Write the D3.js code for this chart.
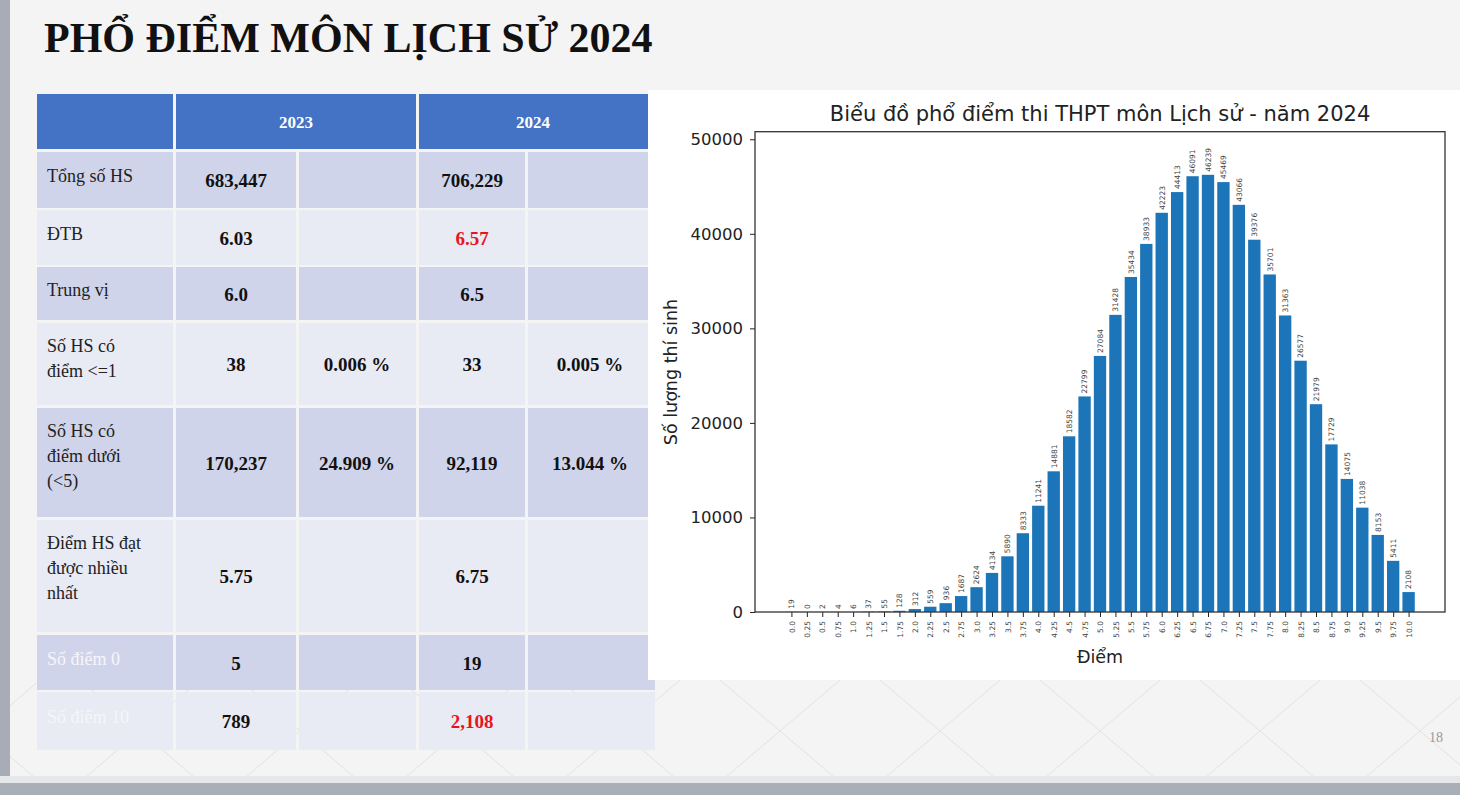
<!DOCTYPE html>
<html><head><meta charset="utf-8">
<script src="https://cdn.jsdelivr.net/npm/d3@7/dist/d3.min.js"></script>
<style>html,body{margin:0;padding:0;background:#f3f3f3;overflow:hidden}</style>
</head><body><svg id="s" width="1460" height="795"></svg>
<script>
// ---- chart data ----
const scoreLabels = ["0.0","0.25","0.5","0.75","1.0","1.25","1.5","1.75","2.0","2.25","2.5","2.75","3.0","3.25","3.5","3.75","4.0","4.25","4.5","4.75","5.0","5.25","5.5","5.75","6.0","6.25","6.5","6.75","7.0","7.25","7.5","7.75","8.0","8.25","8.5","8.75","9.0","9.25","9.5","9.75","10.0"];
const counts = [19,0,2,4,6,37,55,128,312,559,936,1687,2624,4134,5890,8333,11241,14881,18582,22799,27084,31428,35434,38933,42223,44413,46091,46239,45469,43066,39376,35701,31363,26577,21979,17729,14075,11038,8153,5411,2108];
const yTicks = [0,10000,20000,30000,40000,50000];

// ---- table data ----
const headerYears = ["2023","2024"];
const rowLabels = [["Tổng số HS"],["ĐTB"],["Trung vị"],["Số HS có","điểm <=1"],["Số HS có","điểm dưới","(<5)"],["Điểm HS đạt","được nhiều","nhất"],["Số điểm 0"],["Số điểm 10"]];
const val2023 = ["683,447","6.03","6.0","38","170,237","5.75","5","789"];
const pct2023 = ["","","","0.006 %","24.909 %","","",""];
const val2024 = ["706,229","6.57","6.5","33","92,119","6.75","19","2,108"];
const pct2024 = ["","","","0.005 %","13.044 %","","",""];
const redCells2024 = [1,7];

const svg = d3.select("#s");
// background
svg.append("rect").attr("width",1460).attr("height",795).attr("fill","#f4f4f4");
// faint diagonal pattern lower right
const pat = svg.append("g").attr("stroke","#e2e2e2").attr("stroke-width",1);
for (let i=-4;i<10;i++){
  pat.append("line").attr("x1",560+i*160).attr("y1",680).attr("x2",560+i*160+120).attr("y2",782);
  pat.append("line").attr("x1",560+i*160+120).attr("y1",680).attr("x2",560+i*160).attr("y2",782);
}
svg.append("rect").attr("x",0).attr("y",0).attr("width",10).attr("height",795).attr("fill","#a7acb6");
svg.append("rect").attr("x",0).attr("y",776).attr("width",1460).attr("height",7).attr("fill","#e6e7ea");
svg.append("rect").attr("x",0).attr("y",783).attr("width",1460).attr("height",12).attr("fill","#a9aeb7");

// slide title
svg.append("text").attr("x",44).attr("y",52).attr("font-family","Liberation Serif, serif")
  .attr("font-weight","bold").attr("font-size",42).attr("fill","#111").text("PHỔ ĐIỂM MÔN LỊCH SỬ 2024");

// ---- table ----
const colX = [[37,173],[176,296],[299,416],[419,525],[528,655]];
const rowY = [[152,208],[210,265],[267,320],[323,405],[408,517],[520,632],[635,690],[692,750]];
const serif = "Liberation Serif, serif";
const tb = svg.append("g");
// header
tb.append("rect").attr("x",37).attr("y",94).attr("width",136).attr("height",55).attr("fill","#4472c4");
tb.append("rect").attr("x",176).attr("y",94).attr("width",240).attr("height",55).attr("fill","#4472c4");
tb.append("rect").attr("x",419).attr("y",94).attr("width",229).attr("height",55).attr("fill","#4472c4");
headerYears.forEach((y,i)=>{
  const cx = i===0 ? 296 : 533;
  tb.append("text").attr("x",cx).attr("y",128).attr("text-anchor","middle").attr("font-family",serif)
    .attr("font-weight","bold").attr("font-size",17).attr("fill","#fff").text(y);
});
rowY.forEach((r,ri)=>{
  const fill = ri%2===0 ? "#cfd4ea" : "#e8eaf4";
  colX.forEach((c,ci)=>{
    tb.append("rect").attr("x",c[0]).attr("y",r[0]).attr("width",c[1]-c[0]).attr("height",r[1]-r[0]).attr("fill",fill);
  });
  const lines = rowLabels[ri];
  const labelColor = ri>=6 ? "#f6f6fa" : "#222";
  const startY = lines.length===1 ? (r[0]+r[1])/2+2 : r[0]+29;
  lines.forEach((ln,li)=>{
    tb.append("text").attr("x",47).attr("y",startY+li*25).attr("font-family",serif)
      .attr("font-size",18).attr("fill",labelColor).text(ln);
  });
  const cy = (r[0]+r[1])/2+7;
  const cells = [val2023[ri],pct2023[ri],val2024[ri],pct2024[ri]];
  const cxs = [236,357,472,590];
  cells.forEach((t,k)=>{
    if(!t) return;
    const red = k===2 && redCells2024.includes(ri);
    tb.append("text").attr("x",cxs[k]).attr("y",cy).attr("text-anchor","middle").attr("font-family",serif)
      .attr("font-weight","bold").attr("font-size",19).attr("fill",red?"#e8141b":"#111").text(t);
  });
});

// ---- chart ----
svg.append("rect").attr("x",648).attr("y",90).attr("width",812).attr("height",590).attr("fill","#ffffff");
const sans = "DejaVu Sans, sans-serif";
const scores = scoreLabels.map(Number);
const x = d3.scaleLinear().domain([-0.59,10.59]).range([755,1445]);
const y = d3.scaleLinear().domain([0,50800]).range([612,131.7]);
const bw = x(0.2)-x(0);
const ch = svg.append("g");
ch.selectAll("rect.bar").data(counts).join("rect").attr("class","bar")
  .attr("x",(d,i)=>x(scores[i])-bw/2).attr("width",bw)
  .attr("y",d=>y(d)).attr("height",d=>y(0)-y(d)).attr("fill","#1c75b8");
ch.selectAll("text.vl").data(counts).join("text").attr("class","vl")
  .attr("transform",(d,i)=>`translate(${x(scores[i])+2.8},${y(d)-3}) rotate(-90)`)
  .attr("font-family",sans).attr("font-size",7.5).attr("fill","#444").text(d=>d);
// axes
const yAxis = d3.axisLeft(y).tickValues(yTicks).tickSize(5).tickPadding(7).tickFormat(d3.format("d"));
const gy = ch.append("g").attr("transform","translate(755,0)").call(yAxis);
gy.select(".domain").remove();
gy.selectAll("text").attr("font-family",sans).attr("font-size",16.5).attr("fill","#222");
gy.selectAll("line").attr("stroke","#222");
const xAxis = d3.axisBottom(x).tickValues(scores).tickSize(5).tickFormat((d,i)=>scoreLabels[i]);
const gx = ch.append("g").attr("transform","translate(0,612)").call(xAxis);
gx.select(".domain").remove();
gx.selectAll("line").attr("stroke","#222");
gx.selectAll("text").attr("font-family",sans).attr("font-size",7.5).attr("fill","#444")
  .attr("text-anchor","end").attr("dy","0.35em").attr("y",0)
  .attr("transform","translate(0,9) rotate(-90)");
ch.append("rect").attr("x",755).attr("y",131.7).attr("width",690).attr("height",612-131.7)
  .attr("fill","none").attr("stroke","#333").attr("stroke-width",1.3);
ch.append("text").attr("x",1100).attr("y",121).attr("text-anchor","middle").attr("font-family",sans)
  .attr("font-size",21).attr("fill","#222").text("Biểu đồ phổ điểm thi THPT môn Lịch sử - năm 2024");
ch.append("text").attr("x",1100).attr("y",663).attr("text-anchor","middle").attr("font-family",sans)
  .attr("font-size",17.5).attr("fill","#222").text("Điểm");
ch.append("text").attr("transform","translate(677,372) rotate(-90)").attr("text-anchor","middle").attr("font-family",sans)
  .attr("font-size",17.5).attr("fill","#222").text("Số lượng thí sinh");

svg.append("text").attr("x",1443).attr("y",742).attr("text-anchor","end").attr("font-family",serif)
  .attr("font-size",14).attr("fill","#999").text("18");
</script></body></html>
